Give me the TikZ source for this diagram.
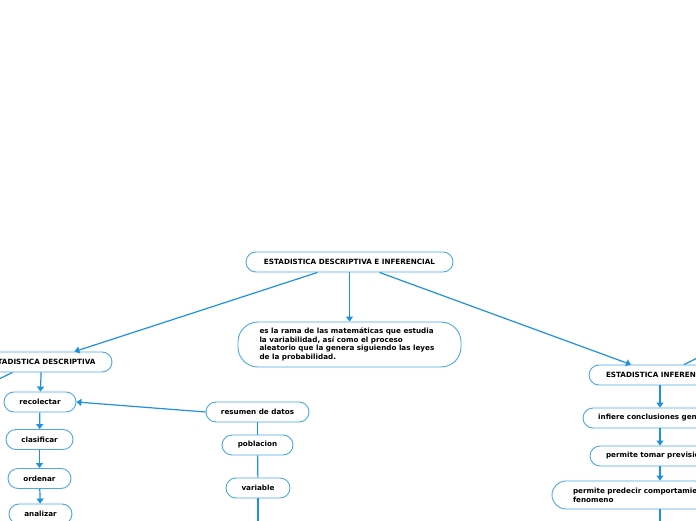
\documentclass[tikz,border=0pt]{standalone}
\usepackage{fontspec}
\setmainfont{DejaVu Sans}
\usepackage{tikz}
\usetikzlibrary{positioning, shapes, arrows.meta}
\definecolor{linea}{RGB}{30,145,220}
\definecolor{borde}{RGB}{75,168,232}
\tikzset{
  caja/.style={draw=borde, line width=0.9pt, rounded corners=10pt, minimum height=20pt, inner sep=2pt, font=\fontsize{7.2}{8.7}\selectfont\bfseries},
  flecha/.style={draw=linea, line width=1.2pt, -{Triangle[length=5pt,width=7pt]}},
  rama/.style={draw=linea, line width=1.2pt}}

\begin{document}
\begin{tikzpicture}[x=1pt,y=1pt]
	\useasboundingbox (0,0) rectangle (696,520);
	\clip (0,0) rectangle (696,520);
	% nodos
	\node[caja, minimum width=207pt] (central) at (349.5,258) {ESTADISTICA DESCRIPTIVA E INFERENCIAL};
	\node[caja, minimum width=223pt, minimum height=45pt, rounded corners=20pt, text width=180pt, align=flush left] (definicion) at (349.5,175.5)
		{es la rama de las matemáticas que estudia\\la variabilidad, así como el proceso\\aleatorio que la genera siguiendo las leyes\\de la probabilidad.};
	\node[caja, minimum width=141pt] (descriptiva) at (41.5,158) {ESTADISTICA DESCRIPTIVA};
	\node[caja, minimum width=72pt] (recolectar) at (40,118) {recolectar};
	\node[caja, minimum width=67pt] (clasificar) at (39.5,80.5) {clasificar};
	\node[caja, minimum width=63pt] (ordenar) at (39.5,41.5) {ordenar};
	\node[caja, minimum width=63pt] (analizar) at (40.5,6) {analizar};
	\node[caja, minimum width=103pt] (resumen) at (257.5,108) {resumen de datos};
	\node[caja, minimum width=71pt] (poblacion) at (257.5,75) {poblacion};
	\node[caja, minimum width=64pt] (variable) at (258,32) {variable};
	\node[caja, minimum width=142pt] (inferencial) at (660,145) {ESTADISTICA INFERENCIAL};
	\node[caja, minimum width=154pt] (infiere) at (660,102) {infiere conclusiones generales};
	\node[caja, minimum width=140pt] (previsiones) at (660,64) {permite tomar previsiones};
	\node[caja, minimum width=216pt, minimum height=28pt, rounded corners=14pt, text width=174pt, align=flush left] (predecir) at (660,25)
		{permite predecir comportamientos del\\fenomeno};
	\coordinate (fueraizq) at (-40,122);
	\coordinate (fuerader) at (730,178);
	\coordinate (abajovar) at (258,-20);
	\coordinate (abajopred) at (660,-20);
	% conectores
	\draw[flecha] ([xshift=-32pt]central.south) -- ([xshift=33pt]descriptiva.north);
	\draw[flecha] (central.south) -- (definicion.north);
	\draw[flecha] ([xshift=30pt]central.south) -- ([xshift=-29pt]inferencial.north);
	\draw[rama] ([xshift=-29pt]descriptiva.south) -- (fueraizq);
	\draw[flecha] (descriptiva) -- (recolectar);
	\draw[flecha] (recolectar) -- (clasificar);
	\draw[flecha] (clasificar) -- (ordenar);
	\draw[flecha] (ordenar) -- (analizar);
	\draw[flecha] (resumen.west) -- (recolectar.east);
	\draw[rama] (resumen) -- (poblacion);
	\draw[rama] (poblacion) -- (variable);
	\draw[rama] (variable) -- (abajovar);
	\draw[rama] (fuerader) -- ([xshift=24pt]inferencial.north);
	\draw[flecha] (inferencial) -- (infiere);
	\draw[flecha] (infiere) -- (previsiones);
	\draw[flecha] (previsiones) -- (predecir);
	\draw[rama] (predecir) -- (abajopred);
\end{tikzpicture}
\end{document}
